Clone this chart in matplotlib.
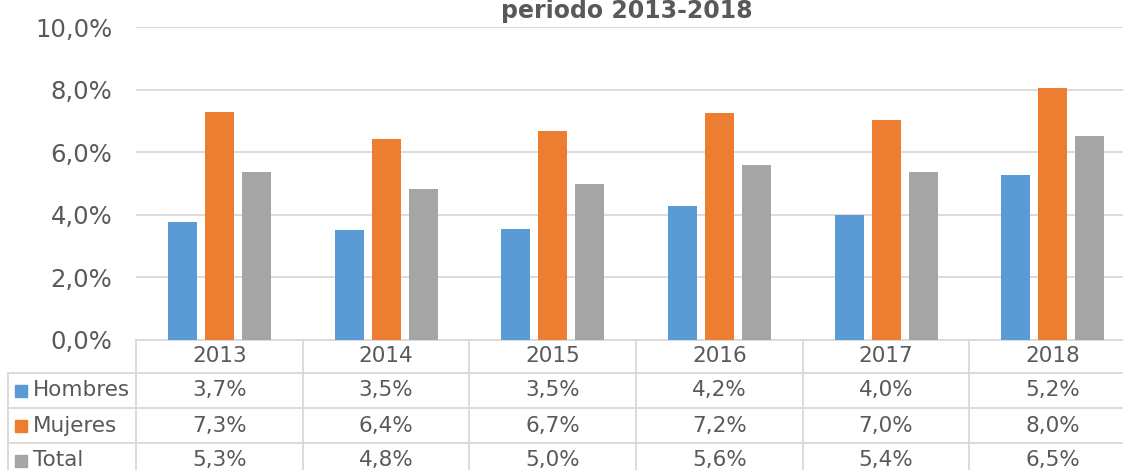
import numpy as np
import matplotlib.pyplot as plt
from matplotlib.ticker import FuncFormatter

years = ['2013', '2014', '2015', '2016', '2017', '2018']
hombres = [3.77, 3.51, 3.54, 4.27, 3.98, 5.26]
mujeres = [7.28, 6.43, 6.68, 7.24, 7.03, 8.05]
total = [5.36, 4.84, 4.98, 5.60, 5.38, 6.53]
labels_h = ['3,7%', '3,5%', '3,5%', '4,2%', '4,0%', '5,2%']
labels_m = ['7,3%', '6,4%', '6,7%', '7,2%', '7,0%', '8,0%']
labels_t = ['5,3%', '4,8%', '5,0%', '5,6%', '5,4%', '6,5%']

series = [('Hombres', hombres, labels_h, '#5B9BD5'),
          ('Mujeres', mujeres, labels_m, '#ED7D31'),
          ('Total', total, labels_t, '#A5A5A5')]

txt = '#595959'
line = '#D9D9D9'

fig = plt.figure(figsize=(11.23, 4.70), dpi=100)
# axes wider than the picture on the right, like the cropped original
ax = fig.add_axes([136/1123, 1 - 340/470, 1000/1123, 313/470])

x = np.arange(len(years))
w = 0.174
step = 0.222
for i, (name, vals, _, col) in enumerate(series):
    ax.bar(x + (i - 1) * step, vals, width=w, color=col, zorder=3)

ax.set_xlim(-0.5, len(years) - 0.5)
ax.set_ylim(0, 10)
ax.set_yticks(np.arange(0, 10.1, 2))
ax.yaxis.set_major_formatter(FuncFormatter(lambda v, p: ('%.1f%%' % v).replace('.', ',')))
ax.tick_params(axis='y', length=0, pad=17, labelsize=17.5, labelcolor=txt)
ax.set_xticks([])
ax.yaxis.grid(True, color=line, linewidth=1.3, zorder=0)
for s in ['top', 'right', 'left']:
    ax.spines[s].set_visible(False)
ax.spines['bottom'].set_color(line)
ax.spines['bottom'].set_linewidth(1.3)

# data table under the axis
tr = ax.get_xaxis_transform()
px = 313.0
col_w = 1000 / 6.0
xl = -0.5 - 128 / col_w
rows_y = [0, -33 / px, -68 / px, -103 / px, -138 / px]
tsize = 15.5

for k in range(len(years) + 1):
    ax.plot([k - 0.5, k - 0.5], [0, rows_y[-1]], color=line, lw=1.3,
            transform=tr, clip_on=False)
ax.plot([xl, xl], [rows_y[1], rows_y[-1]], color=line, lw=1.3,
        transform=tr, clip_on=False)
for yv in rows_y[1:]:
    ax.plot([xl, len(years) - 0.5], [yv, yv], color=line, lw=1.3,
            transform=tr, clip_on=False)

for k, yr in enumerate(years):
    ax.text(k, (rows_y[0] + rows_y[1]) / 2, yr, ha='center', va='center',
            fontsize=tsize, color=txt, transform=tr)

for i, (name, vals, labs, col) in enumerate(series):
    yc = (rows_y[i + 1] + rows_y[i + 2]) / 2
    ax.plot([-0.5 - (136 - 21.5) / col_w], [yc], marker='s', ms=8, color=col,
            linestyle='none', transform=tr, clip_on=False)
    ax.text(-0.5 - (136 - 33) / col_w, yc, name, ha='left', va='center',
            fontsize=tsize, color=txt, transform=tr)
    for k, lab in enumerate(labs):
        ax.text(k, yc, lab, ha='center', va='center', fontsize=tsize,
                color=txt, transform=tr)

fig.text(627 / 1123, 1 - 18 / 470, 'periodo 2013-2018', ha='center',
         va='baseline', fontsize=17, fontweight='bold', color=txt)

fig.savefig('out.png', dpi=100)
